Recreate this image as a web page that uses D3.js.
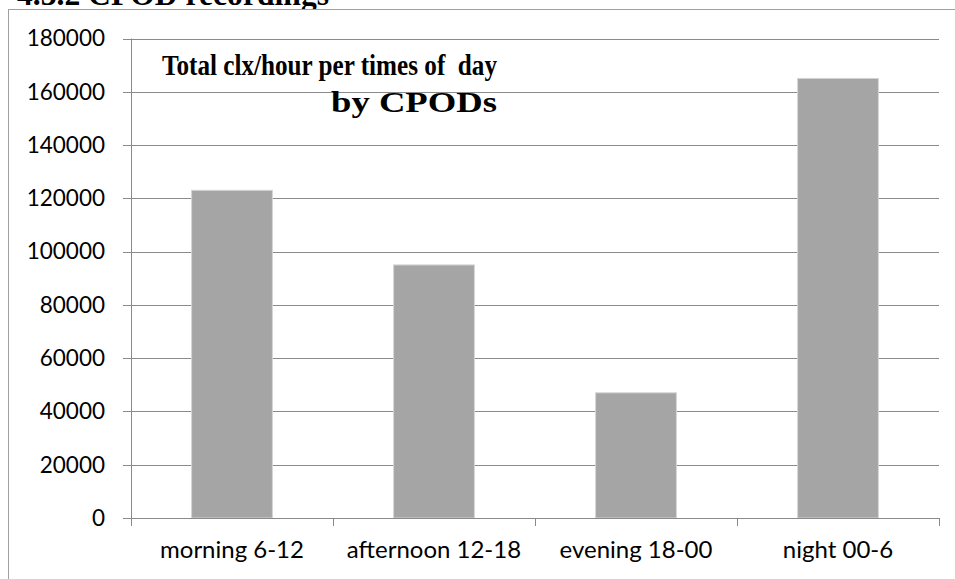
<!DOCTYPE html>
<html>
<head>
<meta charset="utf-8">
<script src="https://cdn.jsdelivr.net/npm/d3@7/dist/d3.min.js"></script>
<style>
  html, body { margin: 0; padding: 0; background: #fff; }
  svg { display: block; }
</style>
</head>
<body>
<svg id="chart" width="955" height="579"></svg>
<script>
const categories = ["morning 6-12", "afternoon 12-18", "evening 18-00", "night 00-6"];
const values = [123000, 95000, 47000, 165000];
const yTicks = [0, 20000, 40000, 60000, 80000, 100000, 120000, 140000, 160000, 180000];
const titleLines = ["Total clx/hour per times of  day", "by CPODs"];
const heading = "4.3.2 CPOD recordings";

(function () {
const svg = d3.select("#chart");
const W = 955, H = 579;
const mLeft = 131, mRight = 939, mTop = 38.5, mBottom = 518;

const labelFont = "Lato, 'Noto Sans', sans-serif";
const serifFont = "'Liberation Serif', 'DejaVu Serif', serif";

// heading above the chart (clipped by the top of the page)
svg.append("text")
  .attr("x", 17).attr("y", 5)
  .attr("font-family", serifFont)
  .attr("font-weight", "bold")
  .attr("font-size", 31)
  .attr("textLength", 312)
  .attr("lengthAdjust", "spacingAndGlyphs")
  .attr("fill", "#000")
  .text(heading);

// chart frame
svg.append("rect")
  .attr("x", 8.5).attr("y", 9.5)
  .attr("width", W + 20).attr("height", H + 20)
  .attr("fill", "#fff")
  .attr("stroke", "#a0a0a0").attr("stroke-width", 1);

const x = d3.scaleBand().domain(categories).range([mLeft, mRight]).paddingInner(0.6).paddingOuter(0.3);
const xTickScale = d3.scaleBand().domain(categories).range([mLeft, mRight]);
const y = d3.scaleLinear().domain([0, 180000]).range([mBottom, mTop]);

// gridlines
svg.append("g")
  .selectAll("line")
  .data(yTicks)
  .join("line")
  .attr("x1", mLeft - 8).attr("x2", mRight)
  .attr("y1", d => Math.round(y(d)) + 0.5).attr("y2", d => Math.round(y(d)) + 0.5)
  .attr("stroke", "#8a8a8a").attr("stroke-width", 1);

// y axis line
svg.append("line")
  .attr("x1", mLeft + 0.5).attr("x2", mLeft + 0.5)
  .attr("y1", mTop).attr("y2", mBottom)
  .attr("stroke", "#8a8a8a");

// y tick labels
svg.append("g")
  .selectAll("text")
  .data(yTicks)
  .join("text")
  .attr("x", 105).attr("y", d => y(d))
  .attr("dy", "0.35em")
  .attr("text-anchor", "end")
  .attr("font-family", labelFont)
  .attr("font-size", 22.5)
  .attr("fill", "#000")
  .text(d => d);

// bars
svg.append("g")
  .selectAll("rect")
  .data(values)
  .join("rect")
  .attr("x", (d, i) => x(categories[i]))
  .attr("width", x.bandwidth())
  .attr("y", d => y(d))
  .attr("height", d => y(0) - y(d))
  .attr("fill", "#a5a5a5")
  .attr("stroke", "#d4d4d4").attr("stroke-width", 1);

// x axis line and ticks
svg.append("line")
  .attr("x1", mLeft).attr("x2", mRight + 0.5)
  .attr("y1", Math.round(y(0)) + 0.5).attr("y2", Math.round(y(0)) + 0.5)
  .attr("stroke", "#8a8a8a");

const tickPos = categories.map(c => xTickScale(c)).concat([mRight]);
svg.append("g")
  .selectAll("line")
  .data(tickPos)
  .join("line")
  .attr("x1", d => Math.round(d) + 0.5).attr("x2", d => Math.round(d) + 0.5)
  .attr("y1", mBottom).attr("y2", mBottom + 8)
  .attr("stroke", "#8a8a8a");

// x labels
svg.append("g")
  .selectAll("text")
  .data(categories)
  .join("text")
  .attr("x", d => xTickScale(d) + xTickScale.bandwidth() / 2)
  .attr("y", 558)
  .attr("text-anchor", "middle")
  .attr("font-family", labelFont)
  .attr("font-size", 24)
  .attr("fill", "#000")
  .text(d => d);

// chart title
svg.append("text")
  .attr("x", 162).attr("y", 75)
  .attr("font-family", serifFont)
  .attr("font-weight", "bold")
  .attr("font-size", 29)
  .attr("textLength", 335)
  .attr("lengthAdjust", "spacingAndGlyphs")
  .style("white-space", "pre")
  .attr("fill", "#000")
  .text(titleLines[0]);
svg.append("text")
  .attr("x", 331).attr("y", 112)
  .attr("font-family", serifFont)
  .attr("font-weight", "bold")
  .attr("font-size", 30)
  .attr("textLength", 166)
  .attr("lengthAdjust", "spacingAndGlyphs")
  .attr("fill", "#000")
  .text(titleLines[1]);
})();
</script>
</body>
</html>
